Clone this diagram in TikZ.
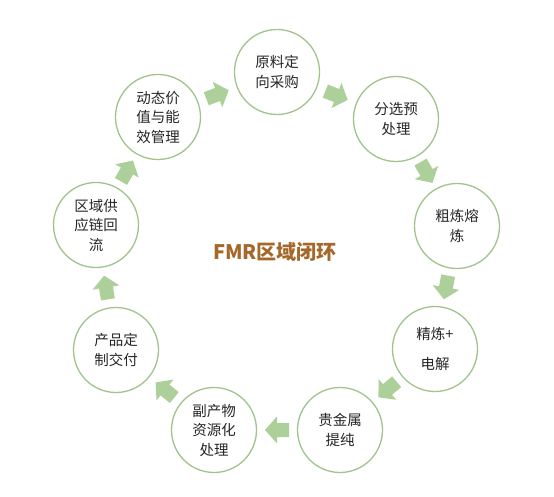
\documentclass[tikz,border=0pt]{standalone}
\usepackage{fontspec}
\newfontfamily\cjk{Noto Sans CJK SC}
\usetikzlibrary{calc}
\definecolor{ringgreen}{HTML}{A0C48C}
\definecolor{arrowgreen}{HTML}{ADD09A}
\definecolor{titlebrown}{HTML}{A5682A}
\definecolor{txt}{HTML}{262626}
\tikzset{
  stepnode/.style={circle, draw=ringgreen, line width=1.3pt, fill=white,
    minimum size=85pt, inner sep=0pt, align=center, text=txt,
    font=\cjk\fontsize{14.5}{20}\selectfont},
  flowarrow/.pic={\fill[arrowgreen] (-12pt,-7pt) -- (0pt,-7pt) -- (0pt,-13.5pt) -- (12pt,0pt) -- (0pt,13.5pt) -- (0pt,7pt) -- (-12pt,7pt) -- cycle;}
}
\begin{document}
\begin{tikzpicture}[x=1pt,y=-1pt]
\useasboundingbox (0,0) rectangle (554,497);
\fill[white] (0,0) rectangle (554,497);
\node[stepnode] (c1) at (277,72) {原料定\\向采购};
\node[stepnode] (c2) at (396,119) {分选预\\处理};
\node[stepnode] (c3) at (457,226) {粗炼熔\\炼};
\node[stepnode, font=\cjk\fontsize{14.5}{30}\selectfont] (c4) at (435,349) {精炼+\\电解};
\node[stepnode] (c5) at (340,430) {贵金属\\提纯};
\node[stepnode, font=\cjk\fontsize{14.5}{19.5}\selectfont] (c6) at (214,430) {副产物\\资源化\\处理};
\node[stepnode] (c7) at (116,350) {产品定\\制交付};
\node[stepnode, font=\cjk\fontsize{14.5}{19.5}\selectfont] (c8) at (96,225) {区域供\\应链回\\流};
\node[stepnode, font=\cjk\fontsize{14.5}{19.5}\selectfont] (c9) at (158,117) {动态价\\值与能\\效管理};
\node[font=\cjk\bfseries\fontsize{20}{22}\selectfont, text=titlebrown] (title) at (275,252) {FMR区域闭环};
\foreach \a/\b in {c1/c2,c2/c3,c3/c4,c4/c5,c5/c6,c6/c7,c7/c8,c8/c9,c9/c1}{
  \path let \p1=($(\b)-(\a)$), \n1={atan2(\y1,\x1)} in
    pic[rotate=\n1] at ($(\a)!0.5!(\b)$) {flowarrow};
}
\end{tikzpicture}
\end{document}
